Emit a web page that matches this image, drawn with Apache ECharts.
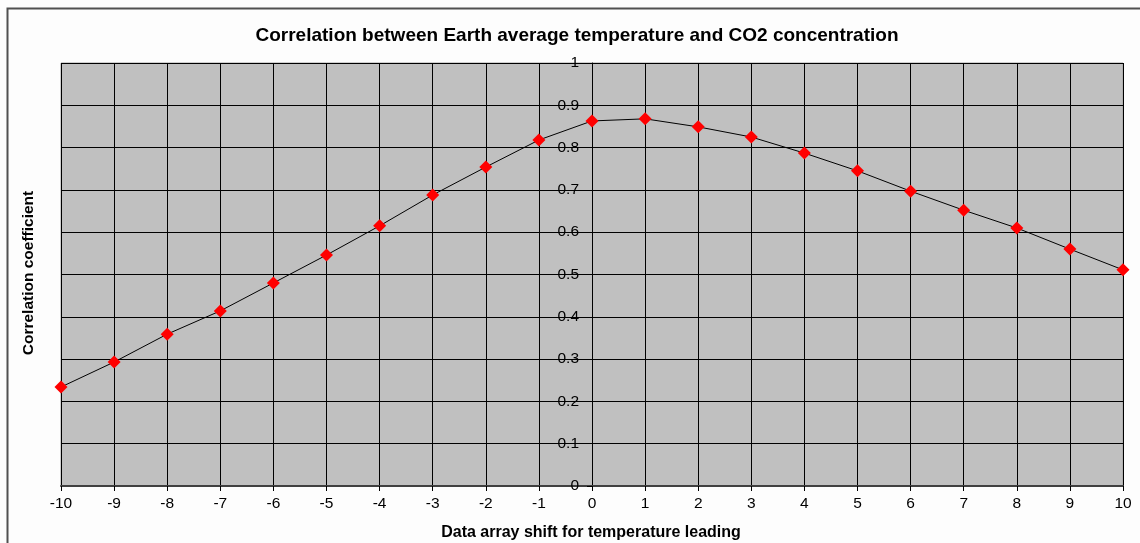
<!DOCTYPE html>
<html>
<head>
<meta charset="utf-8">
<script src="https://cdn.jsdelivr.net/npm/echarts@6/dist/echarts.min.js"></script>
<style>
html,body{margin:0;padding:0;background:#fff;}
#main{width:1140px;height:543px;}
</style>
</head>
<body>
<div id="main"></div>
<script>
var shifts = [-10,-9,-8,-7,-6,-5,-4,-3,-2,-1,0,1,2,3,4,5,6,7,8,9,10];
var correlation = [0.234,0.293,0.359,0.414,0.480,0.546,0.615,0.688,0.754,0.818,0.863,0.868,0.849,0.825,0.787,0.745,0.697,0.652,0.610,0.560,0.511];
var titleText = 'Correlation between Earth average temperature and CO2 concentration';
var xName = 'Data array shift for temperature leading';
var yName = 'Correlation coefficient';

var chart = echarts.init(document.getElementById('main'), null, {renderer:'canvas'});
var points = shifts.map(function(s,i){return [s, correlation[i]];});
var gridLeft = 61, gridRight = 17, W = 1140;
var zeroX = gridLeft + (W - gridLeft - gridRight) * (0 - shifts[0]) / (shifts[shifts.length-1] - shifts[0]);
chart.setOption({
  animation:false,
  backgroundColor:'#fdfdfd',
  grid:{left:gridLeft,right:gridRight,top:63,bottom:57,show:true,backgroundColor:'#c0c0c0',borderColor:'#a0a0a0',borderWidth:1},
  xAxis:{
    type:'value',min:-10,max:10,interval:1,
    axisLine:{onZero:false,lineStyle:{color:'#404040',width:2}},
    axisTick:{show:true,length:5,lineStyle:{color:'#000',width:1}},
    axisLabel:{color:'#000',fontSize:15.5,fontFamily:'Liberation Sans, Arial',margin:10},
    splitLine:{show:true,lineStyle:{color:'#000',width:1}}
  },
  yAxis:{
    type:'value',min:0,max:1,interval:0.1,position:'left',offset:-(zeroX-gridLeft),
    axisLine:{show:true,onZero:false,lineStyle:{color:'#000',width:1}},
    axisTick:{show:true,length:5,lineStyle:{color:'#000'}},
    axisLabel:{color:'#000',fontSize:15.5,fontFamily:'Liberation Sans, Arial',margin:13,
      formatter:function(v){return String(Math.round(v*10)/10);}},
    splitLine:{show:true,lineStyle:{color:'#000',width:1}}
  },
  series:[{
    type:'line',data:points,
    lineStyle:{color:'#000',width:1},
    symbol:'diamond',symbolSize:13,
    itemStyle:{color:'#ff0000'},
    z:5
  }],
  graphic:[
    {type:'rect',shape:{x:7.5,y:8.5,width:1200,height:600},style:{fill:null,stroke:'#505050',lineWidth:2},silent:true,z:-1},
    {type:'text',x:577,y:26,style:{text:titleText,font:'bold 19px "Liberation Sans", Arial',fill:'#000',textAlign:'center',textVerticalAlign:'top'}},
    {type:'text',x:591,y:525,style:{text:xName,font:'bold 16px "Liberation Sans", Arial',fill:'#000',textAlign:'center',textVerticalAlign:'top'}},
    {type:'text',x:29,y:273,rotation:Math.PI/2,style:{text:yName,font:'bold 15.5px "Liberation Sans", Arial',fill:'#000',textAlign:'center',textVerticalAlign:'middle'}}
  ]
});
</script>
</body>
</html>
